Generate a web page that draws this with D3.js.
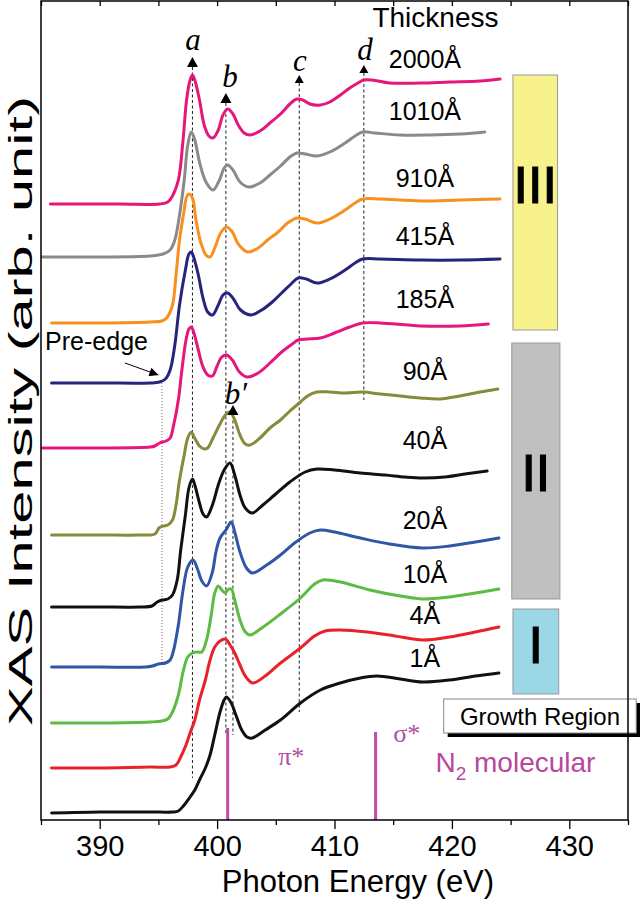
<!DOCTYPE html>
<html><head><meta charset="utf-8">
<script src="https://cdn.jsdelivr.net/npm/d3@7/dist/d3.min.js"></script>
<style>body{margin:0;background:#fff} svg{display:block}</style>
</head><body><svg id="c" width="640" height="902"></svg>
<script>
// ---------- data (energy eV, intensity arb. unit incl. stacking offset) ----------
const energyMajorTicks = [390, 400, 410, 420, 430];
const energyMinorTicks = [385, 395, 405, 415, 425, 435];
const thicknessLabels = ["2000Å","1010Å","910Å","415Å","185Å","90Å","40Å","20Å","10Å","4Å","1Å"];
const regionLabels = ["III","II","I"];

const s2000 = [[385.8,61.6],[391.7,61.6],[395.1,61.6],[395.8,61.8],[396.2,62.4],[396.7,64.0],[397.1,68.0],[397.4,72.0],[397.7,74.0],[397.9,74.5],[398.1,74.0],[398.5,72.0],[398.9,69.5],[399.3,68.4],[399.65,68.2],[400.1,69.0],[400.5,70.5],[400.9,71.1],[401.35,70.6],[401.8,69.5],[402.3,68.7],[402.8,68.5],[403.65,68.9],[404.5,69.7],[405.4,70.6],[406.2,71.6],[406.8,72.1],[407.3,72.0],[407.9,71.6],[408.8,71.5],[409.6,71.8],[410.5,72.5],[411.3,73.2],[412.0,73.7],[412.5,74.0],[413.2,74.0],[414.7,73.7],[417.3,73.7],[419.8,73.8],[422.4,73.9],[424.1,74.1]];
const s1010 = [[385.1,56.3],[390.0,56.3],[394.3,56.4],[395.4,56.6],[396.0,57.0],[396.4,58.0],[396.8,60.5],[397.2,64.0],[397.5,67.5],[397.8,68.8],[398.1,68.0],[398.5,65.8],[399.05,63.8],[399.65,63.0],[400.2,64.0],[400.6,65.2],[400.9,65.5],[401.35,65.0],[401.95,63.8],[402.7,63.3],[403.65,63.7],[404.5,64.5],[405.4,65.4],[406.2,66.3],[406.8,66.7],[407.5,66.6],[408.5,66.4],[409.6,66.8],[410.9,67.7],[411.75,68.4],[412.4,68.8],[413.45,68.7],[415.6,68.5],[418.1,68.5],[420.7,68.6],[422.8,68.8]];
const s910 = [[385.9,49.7],[390.0,49.7],[394.3,49.8],[395.3,49.9],[395.7,50.2],[396.2,51.5],[396.5,54.5],[396.8,58.0],[397.2,61.0],[397.4,62.3],[397.6,62.6],[397.9,62.2],[398.2,60.0],[398.6,57.8],[399.05,56.5],[399.4,56.3],[399.8,57.2],[400.3,58.7],[400.8,59.3],[401.3,58.8],[401.8,57.6],[402.6,56.8],[403.5,57.2],[404.3,58.0],[405.2,58.8],[406.0,59.7],[406.8,60.2],[407.5,60.1],[408.5,59.7],[409.6,60.1],[410.9,61.0],[411.75,61.7],[412.4,62.1],[413.9,62.1],[417.3,61.9],[420.7,62.0],[424.1,62.1]];
const s415 = [[385.9,43.7],[390.0,43.7],[394.3,43.7],[395.1,43.8],[395.6,44.1],[396.0,45.0],[396.4,47.5],[396.8,51.5],[397.3,55.0],[397.6,56.6],[397.8,56.8],[398.0,56.3],[398.4,54.5],[398.8,52.2],[399.2,50.8],[399.6,50.5],[400.1,51.5],[400.5,52.5],[400.9,52.7],[401.4,52.1],[402.0,51.0],[402.9,50.5],[403.8,51.0],[404.7,51.8],[405.5,52.7],[406.3,53.6],[406.9,54.2],[407.6,54.1],[408.5,53.7],[409.6,54.1],[410.9,55.0],[411.75,55.7],[412.4,56.1],[413.9,56.1],[417.3,56.0],[420.7,56.0],[424.1,56.1]];
const s185 = [[385.1,37.2],[390.0,37.2],[394.3,37.3],[394.7,37.4],[395.1,37.7],[395.65,37.9],[396.0,38.2],[396.3,39.5],[396.7,42.0],[397.0,45.0],[397.35,48.0],[397.6,49.1],[397.8,49.3],[398.0,48.8],[398.4,47.0],[398.8,45.3],[399.2,44.5],[399.6,44.4],[400.0,45.4],[400.4,46.3],[400.8,46.5],[401.3,46.0],[401.9,44.8],[402.55,44.3],[403.5,44.7],[404.5,45.7],[405.5,46.8],[406.4,47.6],[406.9,48.0],[407.7,48.1],[408.8,48.2],[410.0,48.7],[411.3,49.3],[412.4,49.7],[413.9,49.7],[417.3,49.4],[420.7,49.4],[423.1,49.6]];
const s90 = [[385.9,28.5],[390.0,28.5],[393.4,28.5],[394.7,28.6],[395.05,29.2],[395.4,29.4],[395.8,29.5],[396.2,30.0],[396.5,31.5],[396.8,34.0],[397.2,36.5],[397.5,38.2],[397.8,38.8],[398.0,38.4],[398.5,37.4],[398.9,37.1],[399.2,37.2],[399.65,38.2],[400.2,39.5],[400.7,40.5],[401.1,40.8],[401.5,40.0],[401.95,38.5],[402.4,37.6],[402.8,37.5],[403.65,38.2],[404.5,39.2],[405.4,40.0],[406.2,40.9],[407.1,41.8],[407.7,42.4],[408.5,42.8],[409.6,42.8],[410.9,42.7],[412.4,42.8],[413.9,42.6],[415.6,42.4],[417.3,42.2],[419.0,42.1],[420.7,42.4],[422.4,42.8],[423.9,43.1]];
const s40 = [[385.9,21.3],[390.0,21.3],[393.4,21.3],[394.45,21.4],[394.9,21.8],[395.3,22.0],[395.8,22.1],[396.2,22.5],[396.6,24.0],[396.9,27.0],[397.3,30.5],[397.6,33.2],[397.9,34.1],[398.1,33.5],[398.5,31.7],[398.8,30.6],[399.1,30.3],[399.6,31.5],[400.1,33.5],[400.6,35.0],[401.1,35.7],[401.5,34.5],[401.95,32.5],[402.4,31.2],[403.0,30.7],[403.8,31.4],[404.9,32.5],[406.2,33.8],[407.5,34.8],[408.5,35.1],[410.0,35.0],[412.2,34.7],[414.3,34.5],[416.0,34.3],[417.5,34.2],[419.4,34.3],[421.1,34.6],[423.0,34.9]];
const s20 = [[385.9,15.3],[390.0,15.3],[393.9,15.3],[394.5,15.4],[395.0,15.6],[395.6,15.7],[396.0,16.0],[396.3,17.0],[396.7,19.5],[397.1,23.0],[397.5,25.3],[397.95,26.0],[398.3,25.2],[398.7,23.9],[399.1,23.4],[399.6,24.8],[399.9,26.8],[400.25,28.2],[400.75,29.0],[401.2,29.8],[401.5,28.8],[401.95,26.8],[402.5,25.2],[403.0,24.7],[404.1,25.4],[405.4,26.5],[406.6,27.7],[407.9,28.7],[408.8,29.0],[410.0,28.8],[412.2,28.2],[414.7,27.6],[417.5,27.2],[419.8,27.4],[422.0,27.8],[424.0,28.2]];
const s10 = [[385.9,9.7],[390.0,9.7],[394.3,9.8],[395.3,9.9],[395.8,10.1],[396.2,10.8],[396.7,12.5],[397.1,14.8],[397.5,16.3],[397.9,16.7],[398.3,16.8],[398.7,16.8],[399.1,18.0],[399.5,20.5],[399.8,22.7],[400.1,23.4],[400.4,23.0],[400.7,22.7],[400.9,23.0],[401.2,23.1],[401.5,22.0],[401.95,20.0],[402.4,18.8],[402.8,18.5],[403.8,19.2],[405.4,20.6],[407.1,22.2],[408.3,23.6],[409.0,24.0],[410.5,23.8],[413.0,23.0],[415.6,22.4],[417.5,22.1],[419.8,22.3],[422.0,22.7],[424.0,23.1]];
const s4 = [[385.9,5.2],[390.0,5.2],[394.3,5.3],[396.0,5.3],[396.5,5.5],[396.9,6.3],[397.35,7.5],[397.7,8.7],[398.1,10.0],[398.5,12.0],[399.0,14.0],[399.4,16.0],[399.8,17.3],[400.25,17.9],[400.7,18.1],[401.1,17.5],[401.5,16.7],[401.95,15.5],[402.4,14.4],[403.05,13.7],[404.1,14.4],[405.4,15.7],[407.1,17.2],[408.3,18.4],[409.2,18.9],[410.5,19.0],[412.8,18.8],[415.15,18.4],[417.5,18.0],[419.8,18.3],[422.0,18.8],[424.0,19.3]];
const s1 = [[385.9,0.7],[390.0,0.8],[394.3,0.8],[396.2,0.8],[396.7,0.9],[397.2,1.5],[397.7,2.3],[398.1,3.0],[398.5,4.0],[399.0,5.2],[399.4,6.5],[399.8,8.5],[400.25,10.8],[400.6,12.0],[400.8,12.3],[401.2,11.7],[401.6,10.5],[402.1,9.0],[402.55,8.3],[403.0,8.2],[404.1,9.0],[405.4,10.0],[407.1,11.7],[408.8,13.0],[410.5,13.7],[412.2,14.2],[413.6,14.4],[415.6,14.1],[417.5,13.8],[419.8,14.0],[422.0,14.4],[424.0,14.7]];

const seriesData = [s2000, s1010, s910, s415, s185, s90, s40, s20, s10, s4, s1];

// feature markers (energy positions)
const peakNames = ["a","b","c","d"];
const peakEnergies = [397.9, 400.75, 407.0, 412.5];
const peakBPrimeEnergy = 401.35;
const preEdgeEnergy = 395.3;
const n2PiStar = 400.9;
const n2SigmaStar = 413.5;

// ---------- layout / style ----------
const seriesColors = ["#e5177b","#8a8a8a","#f7901e","#27257b","#e5177b","#868a3a","#111111","#3056a6","#5cbb42","#e8212a","#111111"];
const labelLevels = [75.2, 70.0, 63.3, 57.5, 51.2, 44.0, 37.1, 29.1, 23.7, 19.6, 15.3];
const SANS = "'Liberation Sans', Arial, Helvetica, sans-serif";
const SERIF = "'Liberation Serif', 'Times New Roman', serif";

const svg = d3.select("#c");
const x = d3.scaleLinear().domain([385, 435]).range([41, 628]);
const y = d3.scaleLinear().domain([0, 82]).range([820, 0]);

// region bars
const regions = [
  {e0:425.2, e1:429.0, i0:74.5, i1:49.0, fill:"#f8f28c", lab:61.7},
  {e0:425.1, e1:429.2, i0:47.7, i1:22.1, fill:"#c0c0c0", lab:32.9},
  {e0:425.2, e1:429.1, i0:21.1, i1:12.6, fill:"#9bd7e6", lab:15.7}
];
regions.forEach((r, k) => {
  svg.append("rect").attr("x", x(r.e0)).attr("y", y(r.i0))
    .attr("width", x(r.e1) - x(r.e0)).attr("height", y(r.i1) - y(r.i0))
    .attr("fill", r.fill).attr("stroke", "#999").attr("stroke-width", 1);
  svg.append("text").attr("x", (x(r.e0) + x(r.e1)) / 2).attr("y", y(r.lab))
    .attr("text-anchor", "middle").attr("font-family", SANS).attr("font-size", 52)
    .attr("fill", "#000").attr("stroke", "#000").attr("stroke-width", 1.2).text(regionLabels[k]);
});

// dashed guide lines
const dash = svg.append("g").attr("stroke", "#222").attr("stroke-width", 1).attr("stroke-dasharray", "3,2.5");
const guides = [
  [peakEnergies[0], 75.3, 4.2],
  [peakEnergies[1], 71.7, 8.7],
  [peakBPrimeEnergy, 40.5, 8.5],
  [peakEnergies[2], 73.7, 10.8],
  [peakEnergies[3], 74.7, 42.0]
];
guides.forEach(g => dash.append("line").attr("x1", x(g[0])).attr("x2", x(g[0])).attr("y1", y(g[1])).attr("y2", y(g[2])));
svg.append("line").attr("x1", x(preEdgeEnergy)).attr("x2", x(preEdgeEnergy)).attr("y1", y(43.7)).attr("y2", y(15.7))
  .attr("stroke", "#555").attr("stroke-width", 0.8).attr("stroke-dasharray", "1,2");

// curves
const line = d3.line().x(d => x(d[0])).y(d => y(d[1])).curve(d3.curveCatmullRom.alpha(0.5));
seriesData.forEach((s, k) => {
  svg.append("path").datum(s).attr("d", line).attr("fill", "none")
    .attr("stroke", seriesColors[k]).attr("stroke-width", 3).attr("stroke-linejoin", "round").attr("stroke-linecap", "round");
});

// N2 molecular lines
const n2Color = "#c04aa8";
[n2PiStar, n2SigmaStar].forEach((e, k) => {
  svg.append("line").attr("x1", x(e)).attr("x2", x(e)).attr("y1", y(k ? 8.8 : 9.2)).attr("y2", y(0))
    .attr("stroke", n2Color).attr("stroke-width", 3);
});
svg.append("text").attr("x", x(405.2)).attr("y", y(5.5)).attr("font-family", SERIF).attr("font-size", 26).attr("fill", "#b34b9f").text("π*");
svg.append("text").attr("x", x(415.0)).attr("y", y(7.8)).attr("font-family", SERIF).attr("font-size", 26).attr("fill", "#b34b9f").text("σ*");
const n2t = svg.append("text").attr("x", x(418.6)).attr("y", y(4.8)).attr("font-family", SANS).attr("font-size", 28).attr("fill", "#b9479c");
n2t.append("tspan").text("N");
n2t.append("tspan").attr("font-size", 19).attr("dy", 8).text("2");
n2t.append("tspan").attr("dy", -8).text(" molecular");

// Growth Region box
const gx0 = x(419.3), gx1 = x(435.7), gy0 = y(12.1), gy1 = y(8.7);
svg.append("rect").attr("x", gx0 + 4).attr("y", gy0 + 4).attr("width", gx1 - gx0).attr("height", gy1 - gy0).attr("fill", "#000");
svg.append("rect").attr("x", gx0).attr("y", gy0).attr("width", gx1 - gx0).attr("height", gy1 - gy0).attr("fill", "#fff").attr("stroke", "#888").attr("stroke-width", 1);
svg.append("text").attr("x", (gx0 + gx1) / 2).attr("y", gy0 + 26).attr("text-anchor", "middle")
  .attr("font-family", SANS).attr("font-size", 24).text("Growth Region");

// thickness labels
svg.append("text").attr("x", x(418.6)).attr("y", y(79.3)).attr("text-anchor", "middle")
  .attr("font-family", SANS).attr("font-size", 28).text("Thickness");
thicknessLabels.forEach((t, k) => {
  svg.append("text").attr("x", x(417.7)).attr("y", y(labelLevels[k])).attr("text-anchor", "middle")
    .attr("font-family", SANS).attr("font-size", 25).text(t);
});

// peak markers
function tri(e, apex, base, w) {
  const cx = x(e), ya = y(apex), yb = y(base);
  svg.append("path").attr("d", `M${cx - w / 2},${yb}L${cx + w / 2},${yb}L${cx},${ya}Z`).attr("fill", "#000");
}
tri(peakEnergies[0], 76.3, 75.3, 11);
tri(peakEnergies[1], 72.7, 71.7, 11);
tri(peakEnergies[2], 74.5, 73.7, 9);
tri(peakEnergies[3], 75.5, 74.7, 9);
tri(peakBPrimeEnergy, 41.5, 40.5, 11);
const peakLabelPos = [[397.95, 77.0], [401.1, 73.3], [407.06, 74.9], [412.6, 76.0]];
peakNames.forEach((n, k) => {
  svg.append("text").attr("x", x(peakLabelPos[k][0])).attr("y", y(peakLabelPos[k][1])).attr("text-anchor", "middle")
    .attr("font-family", SERIF).attr("font-style", "italic").attr("font-size", 31).text(n);
});
svg.append("text").attr("x", x(401.6)).attr("y", y(41.6)).attr("text-anchor", "middle")
  .attr("font-family", SERIF).attr("font-style", "italic").attr("font-size", 31).text("b′");

// pre-edge annotation
svg.append("text").attr("x", x(385.35)).attr("y", y(47.0)).attr("font-family", SANS).attr("font-size", 25).text("Pre-edge");
svg.append("defs").append("marker").attr("id", "ah").attr("viewBox", "0 0 10 10").attr("refX", 10).attr("refY", 5)
  .attr("markerWidth", 12).attr("markerHeight", 9).attr("markerUnits", "userSpaceOnUse").attr("orient", "auto")
  .append("path").attr("d", "M0,0L10,5L0,10Z").attr("fill", "#000");
svg.append("line").attr("x1", x(392.15)).attr("y1", y(45.7)).attr("x2", x(395.0)).attr("y2", y(44.5))
  .attr("stroke", "#000").attr("stroke-width", 1).attr("marker-end", "url(#ah)");

// axes
const axB = svg.append("g").attr("transform", `translate(0,${y(0)})`);
axB.call(d3.axisBottom(x).tickValues(energyMajorTicks).tickSize(9).tickPadding(6).tickFormat(d3.format("d")));
axB.append("g").call(d3.axisBottom(x).tickValues(energyMinorTicks).tickSize(5).tickFormat(""));
axB.selectAll("path.domain").remove();
axB.selectAll("line").attr("stroke", "#000").attr("stroke-width", 1.3);
axB.selectAll("text").attr("font-family", SANS).attr("font-size", 29).attr("fill", "#000");
const axT = svg.append("g").attr("transform", `translate(0,${y(82) + 1})`);
axT.call(d3.axisBottom(x).tickValues(energyMajorTicks.concat(energyMinorTicks)).tickSize(5).tickFormat(""));
axT.selectAll("path.domain").remove();
axT.selectAll("line").attr("stroke", "#000").attr("stroke-width", 1.3);

svg.append("rect").attr("x", x(385)).attr("y", y(82) + 1).attr("width", x(435) - x(385)).attr("height", y(0) - y(82) - 1)
  .attr("fill", "none").attr("stroke", "#000").attr("stroke-width", 1.5);

svg.append("text").attr("x", 358).attr("y", 892).attr("text-anchor", "middle")
  .attr("font-family", SANS).attr("font-size", 31).text("Photon Energy (eV)");
svg.append("text").attr("transform", `translate(32,411) rotate(-90)`).attr("text-anchor", "middle")
  .attr("font-family", SANS).attr("font-size", 33).attr("textLength", 630).attr("lengthAdjust", "spacingAndGlyphs")
  .text("XAS Intensity (arb. unit)");
</script></body></html>
